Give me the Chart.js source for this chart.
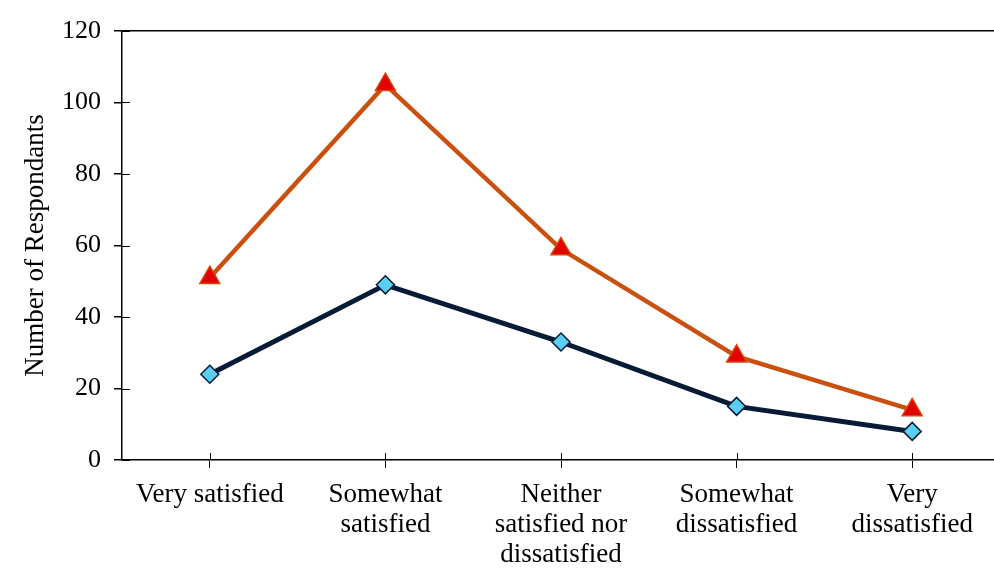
<!DOCTYPE html>
<html>
<head>
<meta charset="utf-8">
<script src="https://cdn.jsdelivr.net/npm/chart.js@4.4.1/dist/chart.umd.min.js"></script>
<style>
html,body{margin:0;padding:0;background:#fff;overflow:hidden;}
#wrap{width:1000px;height:569px;position:relative;}
</style>
</head>
<body>
<div id="wrap"><canvas id="c" width="1000" height="569"></canvas></div>
<script>
const categories = [["Very satisfied"], ["Somewhat", "satisfied"], ["Neither", "satisfied nor", "dissatisfied"], ["Somewhat", "dissatisfied"], ["Very", "dissatisfied"]];
const seriesTop = [51, 105, 59, 29, 14];
const seriesBottom = [24, 49, 33, 15, 8];
const yTicks = [0, 20, 40, 60, 80, 100, 120];
const yTitle = "Number of Respondants";

const FONT = "'Liberation Serif', 'Times New Roman', serif";

const innerTicks = {
  id: 'innerTicks',
  afterDatasetsDraw(chart) {
    const ctx = chart.ctx, x = chart.scales.x, y = chart.scales.y;
    ctx.save();
    ctx.strokeStyle = '#000';
    ctx.lineWidth = 1;
    yTicks.forEach(v => {
      const py = Math.round(y.getPixelForValue(v)) + 0.5;
      ctx.beginPath(); ctx.moveTo(x.left, py); ctx.lineTo(x.left + 8, py); ctx.stroke();
    });
    categories.forEach((c, i) => {
      const px = Math.round(x.getPixelForValue(i)) + 0.5;
      ctx.beginPath(); ctx.moveTo(px, y.bottom); ctx.lineTo(px, y.bottom - 7); ctx.stroke();
    });
    ctx.restore();
  }
};

new Chart(document.getElementById('c'), {
  type: 'line',
  data: {
    labels: categories,
    datasets: [
      {
        data: seriesBottom,
        borderColor: '#071A36',
        borderWidth: 5,
        pointStyle: 'rectRot',
        pointRadius: 9,
        pointBackgroundColor: '#5CCDF3',
        pointBorderColor: '#0B1C33',
        pointBorderWidth: 1.5,
        tension: 0
      },
      {
        data: seriesTop,
        borderColor: '#C9500E',
        borderWidth: 4.5,
        pointStyle: 'triangle',
        pointRadius: 11.5,
        pointBackgroundColor: '#E30000',
        pointBorderColor: '#D2460A',
        pointBorderWidth: 1.5,
        tension: 0
      }
    ]
  },
  options: {
    responsive: false,
    animation: false,
    layout: { autoPadding: false, padding: { top: 31, right: 0, left: 0, bottom: 0 } },
    plugins: { legend: { display: false }, tooltip: { enabled: false } },
    scales: {
      x: {
        offset: true,
        grid: { drawOnChartArea: false, tickColor: '#000', tickLength: 8, offset: false },
        border: { display: true, color: '#000', width: 1.5 },
        ticks: { color: '#000', font: { family: FONT, size: 27, lineHeight: 1.11 }, maxRotation: 0, autoSkip: false, padding: 12 },
        afterFit(s) { s.height = 109; s.paddingLeft = 0; s.paddingRight = 0; }
      },
      y: {
        min: 0, max: 120,
        afterBuildTicks(s) { s.ticks = yTicks.map(v => ({ value: v })); },
        grid: {
          color: c => (c.tick && c.tick.value === 120) ? '#000' : 'rgba(0,0,0,0)',
          lineWidth: 1.5,
          tickColor: '#000', tickLength: 8
        },
        border: { display: true, color: '#000', width: 1.5 },
        ticks: { color: '#000', font: { family: FONT, size: 26 }, padding: 13 },
        title: { display: true, text: yTitle, color: '#000', font: { family: FONT, size: 27 }, padding: { top: 20, bottom: 0 } },
        afterFit(s) { s.width = 122; }
      }
    }
  },
  plugins: [innerTicks]
});
</script>
</body>
</html>
